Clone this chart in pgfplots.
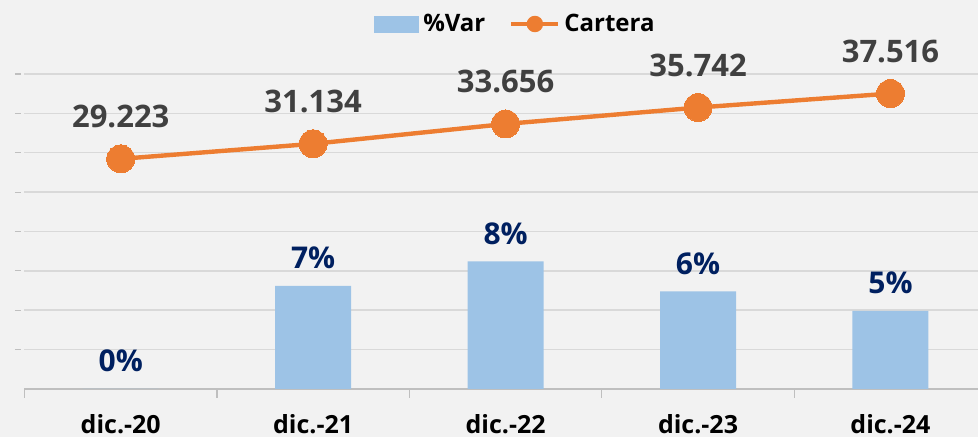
\documentclass[border=0pt]{standalone}
\usepackage{fontspec}
\setmainfont{Open Sans}
\usepackage{pgfplots}
\pgfplotsset{compat=1.18}
\definecolor{bg}{HTML}{F2F2F2}
\definecolor{barblue}{HTML}{9DC3E6}
\definecolor{lineor}{HTML}{ED7D31}
\definecolor{gridc}{HTML}{D9D9D9}
\definecolor{axisgray}{HTML}{BFBFBF}
\definecolor{navy}{HTML}{002060}
\definecolor{dgray}{HTML}{404040}
\begin{document}
\begin{tikzpicture}
\useasboundingbox (0,0) rectangle (489pt,218.5pt);
\fill[bg] (0,0) rectangle (489pt,218.5pt);
\begin{axis}[
  at={(12.25pt,24pt)}, anchor=south west,
  scale only axis, width=476.75pt, height=157.5pt,
  xmin=-0.5, xmax=4.455, ymin=0, ymax=20,
  axis x line*=bottom, axis y line*=left,
  x axis line style={draw=axisgray, line width=0.6pt, -},
  y axis line style={draw=none},
  xtick={0,1,2,3,4},
  xticklabels={dic.-20,dic.-21,dic.-22,dic.-23,dic.-24},
  minor xtick={-0.5,0.5,1.5,2.5,3.5},
  ytick={2.5,5,...,20},
  yticklabels={},
  ymajorgrids, grid style={draw=gridc, line width=0.75pt},
  tick align=outside, major tick length=3pt, minor tick length=4.5pt,
  major x tick style={draw=none},
  minor x tick style={draw=axisgray, line width=0.6pt},
  major y tick style={draw=axisgray, line width=0.6pt, xshift=-1.75pt},
  xticklabel style={font=\bfseries\fontsize{12.5}{14}\selectfont, text=black, yshift=-6pt},
  clip=false,
]
\addplot[ybar, bar width=38pt, fill=barblue, draw=none,
  nodes near coords, point meta=explicit symbolic,
  every node near coord/.append style={anchor=base, yshift=8.5pt, text=navy,
    font=\bfseries\fontsize{15}{18}\selectfont}]
  coordinates {(0,0) [0\%] (1,6.54) [7\%] (2,8.10) [8\%] (3,6.20) [6\%] (4,4.96) [5\%]};
\end{axis}
\begin{axis}[
  at={(12.25pt,24pt)}, anchor=south west,
  scale only axis, width=476.75pt, height=157.5pt,
  xmin=-0.5, xmax=4.455, ymin=0, ymax=40000,
  hide axis, clip=false,
  legend columns=2,
  legend cell align=left,
  legend style={at={(0.516,1.1587)}, anchor=center, draw=none, fill=none,
    font=\bfseries\fontsize{12}{14}\selectfont, text=black,
    /tikz/every even column/.append style={column sep=10pt}},
]
\addlegendimage{legend image code/.code={\fill[barblue] (0pt,-4pt) rectangle (22pt,4pt);}}
\addlegendentry{\%Var}
\addplot[lineor, line width=2.2pt, mark=*, mark size=7pt,
  mark options={fill=lineor, draw=lineor, line width=0pt},
  nodes near coords, point meta=explicit symbolic,
  every node near coord/.append style={anchor=base, yshift=15.5pt, text=dgray,
    font=\bfseries\fontsize{15.5}{18}\selectfont},
  legend image code/.code={\draw[lineor, line width=2pt] (0pt,0pt) -- (23.5pt,0pt);
    \fill[lineor] (11.75pt,0pt) circle (3pt);}]
  coordinates {(0,29223) [29.223] (1,31134) [31.134] (2,33656) [33.656] (3,35742) [35.742] (4,37516) [37.516]};
\addlegendentry{Cartera}
\end{axis}
\end{tikzpicture}
\end{document}
